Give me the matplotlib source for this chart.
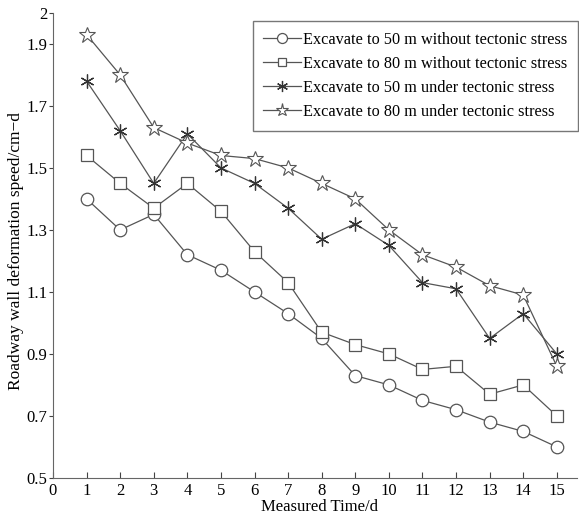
import matplotlib
matplotlib.use("Agg")
import matplotlib.pyplot as plt

plt.rcParams['font.family'] = ['Liberation Serif', 'DejaVu Serif']

days = list(range(1, 16))
s50_no = [1.40, 1.30, 1.35, 1.22, 1.17, 1.10, 1.03, 0.95, 0.83, 0.80, 0.75, 0.72, 0.68, 0.65, 0.60]
s80_no = [1.54, 1.45, 1.37, 1.45, 1.36, 1.23, 1.13, 0.97, 0.93, 0.90, 0.85, 0.86, 0.77, 0.80, 0.70]
s50_ts = [1.78, 1.62, 1.45, 1.61, 1.50, 1.45, 1.37, 1.27, 1.32, 1.25, 1.13, 1.11, 0.95, 1.03, 0.90]
s80_ts = [1.93, 1.80, 1.63, 1.58, 1.54, 1.53, 1.50, 1.45, 1.40, 1.30, 1.22, 1.18, 1.12, 1.09, 0.86]
labels = ["Excavate to 50 m without tectonic stress",
          "Excavate to 80 m without tectonic stress",
          "Excavate to 50 m under tectonic stress",
          "Excavate to 80 m under tectonic stress"]
xticks = list(range(0, 16))
yticks = [0.5, 0.7, 0.9, 1.1, 1.3, 1.5, 1.7, 1.9, 2.0]
yticklabels = ["0.5", "0.7", "0.9", "1.1", "1.3", "1.5", "1.7", "1.9", "2"]

fig = plt.figure(figsize=(5.79, 5.15), dpi=100)
ax = fig.add_axes([0.0915, 0.072, 0.905, 0.903])

lc = '#555555'
ax.plot(days, s50_no, color=lc, lw=0.9, marker='o', ms=9, mfc='white', mec=lc, mew=0.9, label=labels[0])
ax.plot(days, s80_no, color=lc, lw=0.9, marker='s', ms=8, mfc='white', mec=lc, mew=0.9, label=labels[1])
ax.plot(days, s50_ts, color=lc, lw=0.9, marker=(6, 2, 0), ms=10, mfc='white', mec='#333333', mew=0.9, label=labels[2])
ax.plot(days, s80_ts, color=lc, lw=0.9, marker='*', ms=12, mfc='white', mec=lc, mew=0.8, label=labels[3])

ax.set_xlim(0, 15.6)
ax.set_ylim(0.5, 2.0)
ax.set_xticks(xticks)
ax.set_yticks(yticks)
ax.set_yticklabels(yticklabels)
ax.tick_params(axis='x', direction='in', labelsize=12, length=4, color='#444444')
ax.tick_params(axis='y', direction='out', labelsize=12, length=3, pad=1, color='#444444')
ax.spines['top'].set_visible(False)
ax.spines['right'].set_visible(False)
for s in ['left', 'bottom']:
    ax.spines[s].set_color('#666666')
ax.set_xlabel("Measured Time/d", fontsize=12)
ax.xaxis.set_label_coords(0.508, -0.046)
ax.xaxis.label.set_va('top')
ax.set_ylabel("Roadway wall deformation speed/cm\u2212d", fontsize=12.5)
ax.yaxis.set_label_coords(-0.056, 0.488)

leg = ax.legend(loc='upper right', bbox_to_anchor=(578 / 579, 1 - 21 / 515),
                bbox_transform=fig.transFigure, borderaxespad=0,
                fontsize=11.7, frameon=True, markerscale=0.8,
                fancybox=False, edgecolor='#555555', handlelength=2.3, borderpad=0.65,
                labelspacing=0.5, handletextpad=0.15)
leg.get_frame().set_linewidth(1.0)

fig.savefig("out.png", dpi=100)
